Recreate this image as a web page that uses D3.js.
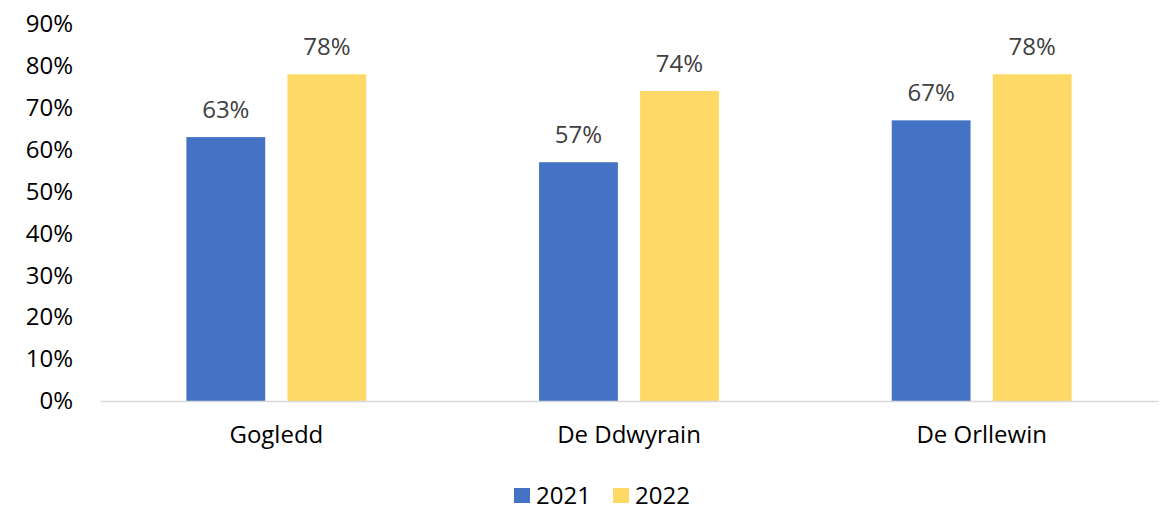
<!DOCTYPE html>
<html>
<head>
<meta charset="utf-8">
<title>2021 / 2022 by region</title>
<script src="https://cdn.jsdelivr.net/npm/d3@7"></script>
<style>
  body { margin: 0; background: #fff; }
  text { font-family: "Open Sans", "Liberation Sans", sans-serif; }
</style>
</head>
<body>
<svg id="svg"></svg>
<script>
// data
var categories = ["Gogledd", "De Ddwyrain", "De Orllewin"];
var years = ["2021", "2022"];
var values2021 = [63, 57, 67];
var values2022 = [78, 74, 78];
var yTicks = [0, 10, 20, 30, 40, 50, 60, 70, 80, 90];
var colours = ["#4472C4", "#FFD966"];

var width = 1165, height = 512,
    margin = {top: 24, left: 100, right: 7, bottom: 111},
    fontSize = 24;

var svg = d3.select("#svg")
    .attr("width", width)
    .attr("height", height);

var x0 = d3.scaleBand()
    .domain(categories)
    .range([margin.left, width - margin.right])
    .paddingInner(0.49)
    .paddingOuter(0.245);

// two bars with a small gap inside each band
var x1 = d3.scaleBand()
    .domain(years)
    .range([0, x0.bandwidth()])
    .paddingInner(0.22)
    .paddingOuter(0);

var y = d3.scaleLinear()
    .domain([0, 90])
    .range([height - margin.bottom, margin.top]);

// y axis labels, no line
var axisY = d3.axisLeft(y)
    .tickValues(yTicks)
    .tickSize(0)
    .tickPadding(27)
    .tickFormat(function(d) { return d + "%"; });

var gy = svg.append("g")
    .attr("transform", "translate(" + margin.left + ",0)")
    .call(axisY);
gy.select(".domain").remove();
gy.selectAll("text")
    .attr("font-size", fontSize)
    .attr("fill", "#000")
    .style("font-family", "'Open Sans', sans-serif");

// bars
var rows = categories.map(function(c, i) {
    return {category: c, vals: [values2021[i], values2022[i]]};
});

var groups = svg.append("g").selectAll("g")
    .data(rows)
    .enter().append("g")
    .attr("transform", function(d) { return "translate(" + x0(d.category) + ",0)"; });

groups.selectAll("rect")
    .data(function(d) { return d.vals.map(function(v, j) { return {year: years[j], v: v, j: j}; }); })
    .enter().append("rect")
    .attr("x", function(d) { return x1(d.year); })
    .attr("y", function(d) { return y(d.v); })
    .attr("width", x1.bandwidth())
    .attr("height", function(d) { return y(0) - y(d.v); })
    .attr("fill", function(d) { return colours[d.j]; });

groups.selectAll("text")
    .data(function(d) { return d.vals.map(function(v, j) { return {year: years[j], v: v}; }); })
    .enter().append("text")
    .attr("x", function(d) { return x1(d.year) + x1.bandwidth() / 2; })
    .attr("y", function(d) { return y(d.v) - 19; })
    .attr("text-anchor", "middle")
    .attr("font-size", fontSize)
    .attr("fill", "#404040")
    .text(function(d) { return d.v + "%"; });

// x axis
var axisX = d3.axisBottom(x0)
    .tickSize(0)
    .tickPadding(25);

var gx = svg.append("g")
    .attr("transform", "translate(0," + y(0) + ")")
    .call(axisX);
gx.select(".domain")
    .attr("stroke", "#D9D9D9")
    .attr("stroke-width", 1.5);
gx.selectAll("text")
    .attr("font-size", fontSize)
    .attr("fill", "#000")
    .style("font-family", "'Open Sans', sans-serif");

// legend
var legend = svg.append("g");
var legendX = [514, 613];
years.forEach(function(yr, i) {
    legend.append("rect")
        .attr("x", legendX[i])
        .attr("y", 488)
        .attr("width", 16)
        .attr("height", 15)
        .attr("fill", colours[i]);
    legend.append("text")
        .attr("x", legendX[i] + 22)
        .attr("y", 504)
        .attr("font-size", fontSize)
        .attr("fill", "#000")
        .text(yr);
});
</script>
</body>
</html>
